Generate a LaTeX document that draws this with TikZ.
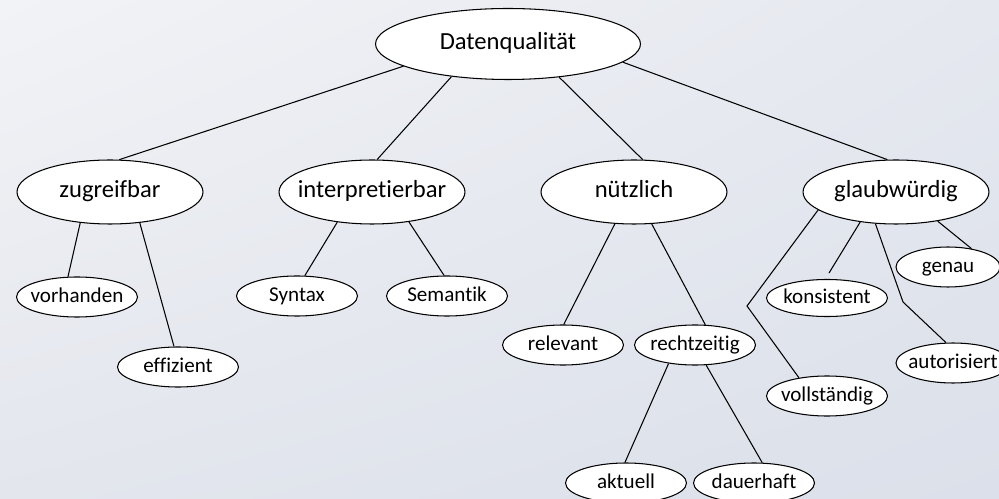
\documentclass[tikz,border=0pt]{standalone}
\usepackage{fontspec}
\setmainfont{Carlito}[Ligatures=NoCommon]
\usetikzlibrary{shapes.geometric, shadings}

\definecolor{bgtl}{RGB}{242,243,246}
\definecolor{bgtr}{RGB}{229,232,239}
\definecolor{bgbl}{RGB}{227,230,237}
\definecolor{bgbr}{RGB}{219,224,234}

\begin{document}
\begin{tikzpicture}[x=0.02cm, y=-0.02cm, line width=0.6pt,
  root/.style={ellipse, draw=black, fill=white, inner xsep=-20pt, inner ysep=0pt,
    text height=0.74em, text depth=0.14em,
    minimum width=5.3cm, minimum height=1.42cm, font=\fontsize{14}{16}\selectfont},
  crit/.style={ellipse, draw=black, fill=white, inner xsep=-20pt, inner ysep=0pt,
    text height=0.74em, text depth=0.14em,
    minimum width=3.72cm, minimum height=1.28cm, font=\fontsize{14}{16}\selectfont},
  leaf/.style={ellipse, draw=black, fill=white, inner xsep=-20pt, inner ysep=0pt,
    text height=0.76em, text depth=0.12em,
    minimum width=2.42cm, minimum height=0.8cm, font=\fontsize{12}{14}\selectfont}]
  \shade[upper left=bgtl, upper right=bgtr, lower left=bgbl, lower right=bgbr]
    (0,0) rectangle (999,499);
  \useasboundingbox (0,0) rectangle (999,499);

  \node[root] (dq) at (508,44) {Datenqualität};

  \node[crit] (zug) at (110,192) {zugreifbar};
  \node[crit] (inter) at (372,192) {interpretierbar};
  \node[crit] (nuetz) at (634,192) {nützlich};
  \node[crit] (glaub) at (896,192) {glaubwürdig};

  \node[leaf] (vorh) at (77,297) {vorhanden};
  \node[leaf] (eff) at (178,367) {effizient};
  \node[leaf] (syn) at (297,296) {Syntax};
  \node[leaf] (sem) at (447,296) {Semantik};
  \node[leaf] (rel) at (563,345) {relevant};
  \node[leaf] (recht) at (695,345) {rechtzeitig};
  \node[leaf] (akt) at (626,483) {aktuell};
  \node[leaf] (dauer) at (754,483) {dauerhaft};
  \node[leaf, minimum height=0.74cm] (kons) at (827,298) {konsistent};
  \node[leaf] (voll) at (827,396) {vollständig};
  \node[leaf, minimum width=2.08cm] (genau) at (948,267) {genau};
  \node[leaf, minimum width=2.28cm] (auto) at (953,363) {autorisiert};

  \coordinate (knickV) at (747,306);
  \coordinate (knickA) at (903,302);

  \draw (dq.192) -- (zug.74);
  \draw (dq.210) -- (inter.81);
  \draw (dq.327) -- (nuetz.75);
  \draw (dq.351) -- (glaub.105);

  \draw (zug.226) -- (vorh.114);
  \draw (zug.314) -- (eff.101);
  \draw (inter.221) -- (syn.69);
  \draw (inter.321) -- (sem.98);
  \draw (nuetz.239) -- (rel.88);
  \draw (nuetz.299) -- (recht.63);
  \draw (recht.215) -- (akt.93);
  \draw (recht.299) -- (dauer.68);

  \draw (glaub.193) -- (knickV) -- (voll.147);
  \draw[shorten >=0.14cm] (glaub.220) -- (kons.95);
  \draw (glaub.237) -- (knickA) -- (auto.109);
  \draw (glaub.325) -- (genau.38);
\end{tikzpicture}
\end{document}
